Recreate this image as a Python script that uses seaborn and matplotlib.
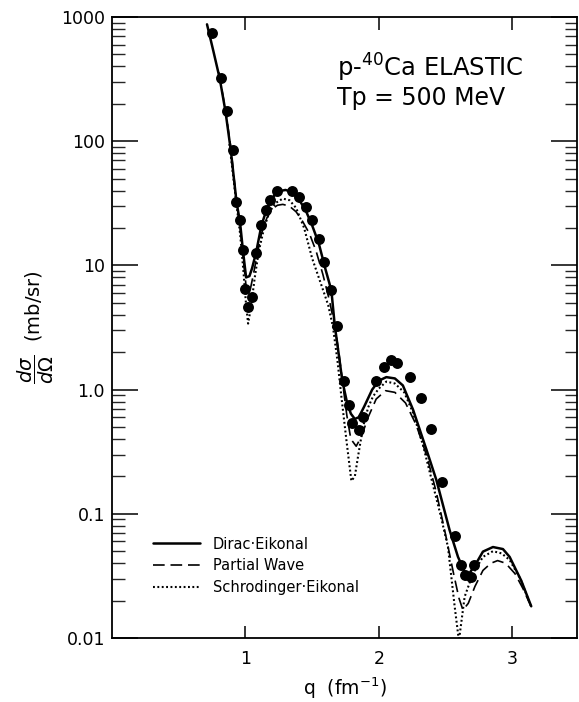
import matplotlib
matplotlib.use("Agg")
import matplotlib.pyplot as plt
import seaborn as sns
import pandas as pd
import numpy as np

# ---- data ----
q_data = [0.750, 0.820, 0.862, 0.907, 0.933, 0.960, 0.982, 0.995, 1.052, 1.019,
          1.082, 1.120, 1.157, 1.182, 1.238, 1.352, 1.401, 1.452, 1.499, 1.551,
          1.589, 1.641, 1.690, 1.738, 1.778, 1.801, 1.849, 1.881, 1.976, 2.036,
          2.088, 2.136, 2.231, 2.315, 2.388, 2.476, 2.568, 2.618, 2.643, 2.693, 2.710]
xs_data = [740, 321, 175, 85, 32.6, 23.2, 13.3, 6.5, 5.6, 4.6,
           12.7, 21.1, 27.9, 33.6, 40, 39.7, 35.7, 29.4, 23.2, 16.3,
           10.6, 6.3, 3.25, 1.18, 0.75, 0.535, 0.47, 0.60, 1.18, 1.51,
           1.73, 1.63, 1.27, 0.86, 0.48, 0.181, 0.066, 0.0387, 0.0321, 0.0308, 0.0387]

q_dirac = [0.712, 0.76, 0.807, 0.85, 0.89, 0.933, 0.96, 0.982, 1.005, 1.03, 1.05, 1.08,
           1.12, 1.16, 1.20, 1.25, 1.30, 1.35, 1.40, 1.45, 1.50, 1.55, 1.60, 1.644,
           1.67, 1.70, 1.726, 1.76, 1.79, 1.82, 1.85, 1.89, 1.95, 2.00, 2.056, 2.12,
           2.18, 2.256, 2.356, 2.431, 2.53, 2.593, 2.66, 2.73, 2.78, 2.855, 2.93,
           2.98, 3.067, 3.142]
xs_dirac = [873, 530, 321, 175, 85, 32.6, 22, 13, 8.0, 8.2, 9.5, 12.7,
            21, 28.5, 35, 39.5, 40.5, 39, 34, 28, 21, 15, 9.3, 6.3,
            3.25, 1.9, 1.18, 0.8, 0.64, 0.58, 0.6, 0.73, 1.0, 1.18, 1.26, 1.23,
            1.08, 0.69, 0.33, 0.187, 0.074, 0.045, 0.031, 0.040, 0.0496, 0.054, 0.052,
            0.045, 0.029, 0.018]

q_pw = [0.80, 0.85, 0.89, 0.933, 0.96, 0.985, 1.01, 1.035, 1.06, 1.09, 1.12, 1.16,
        1.20, 1.24, 1.28, 1.33, 1.38, 1.43, 1.48, 1.53, 1.58, 1.63, 1.67, 1.70,
        1.73, 1.76, 1.79, 1.83, 1.87, 1.92, 1.98, 2.05, 2.12, 2.20, 2.28, 2.36,
        2.43, 2.50, 2.56, 2.60, 2.63, 2.67, 2.72, 2.78, 2.84, 2.89, 2.95, 3.02,
        3.08, 3.13]
xs_pw = [360, 180, 90, 33, 20, 11, 6.0, 6.3, 8.5, 12.5, 18, 24,
         28.5, 30.5, 31, 30, 27, 22.5, 18, 13, 8.5, 5.2, 3.2, 2.0,
         1.1, 0.62, 0.40, 0.35, 0.42, 0.6, 0.84, 0.98, 0.95, 0.78, 0.52, 0.29,
         0.15, 0.068, 0.033, 0.021, 0.0168, 0.019, 0.026, 0.035, 0.040, 0.042, 0.040, 0.033,
         0.025, 0.019]

q_se = [0.88, 0.93, 0.96, 0.985, 1.005, 1.02, 1.04, 1.07, 1.10, 1.14, 1.18, 1.23,
        1.28, 1.33, 1.38, 1.44, 1.50, 1.57, 1.62, 1.656, 1.69, 1.719, 1.757, 1.794,
        1.82, 1.844, 1.881, 1.92, 1.956, 2.00, 2.056, 2.12, 2.19, 2.256, 2.33, 2.40,
        2.46, 2.518, 2.568, 2.60, 2.643, 2.705, 2.78, 2.855, 2.92, 2.98, 3.06, 3.14]
xs_se = [95, 33, 18, 9, 4.8, 3.4, 4.5, 8, 13, 20, 27, 32,
         34.5, 33.5, 29, 20, 11.4, 6.9, 4.8, 3.2, 1.7, 0.88, 0.39, 0.184,
         0.2, 0.29, 0.5, 0.72, 0.88, 1.02, 1.16, 1.12, 0.95, 0.65, 0.36, 0.18,
         0.1, 0.054, 0.018, 0.0095, 0.0215, 0.033, 0.045, 0.050, 0.048, 0.0425, 0.03, 0.018]

y_ticks = [0.01, 0.1, 1, 10, 100, 1000]
y_tick_labels = ["0.01", "0.1", "1.0", "10", "100", "1000"]
x_ticks = [1, 2, 3]
x_tick_labels = ["1", "2", "3"]
legend_labels = ["Dirac\u00b7Eikonal", "Partial Wave", "Schrodinger\u00b7Eikonal"]

# ---- plot ----
sns.set_theme(style="ticks")
plt.rcParams["font.family"] = ["DejaVu Sans"]
plt.rcParams["mathtext.fontset"] = "dejavusans"
plt.rcParams["text.color"] = "black"
plt.rcParams["axes.labelcolor"] = "black"

fig = plt.figure(figsize=(5.79, 7.02), dpi=100)
ax = fig.add_axes([112 / 579, 1 - 638 / 702, (577 - 112) / 579, (638 - 17) / 702])

df_d = pd.DataFrame({"q": q_dirac, "xs": xs_dirac})
df_p = pd.DataFrame({"q": q_pw, "xs": xs_pw})
df_s = pd.DataFrame({"q": q_se, "xs": xs_se})
df_pts = pd.DataFrame({"q": q_data, "xs": xs_data})

sns.lineplot(data=df_d, x="q", y="xs", sort=False, ax=ax, color="black",
             lw=1.8, label=legend_labels[0])
sns.lineplot(data=df_p, x="q", y="xs", sort=False, ax=ax, color="black",
             lw=1.2, dashes=False, label=legend_labels[1])
ax.lines[-1].set_dashes([7, 3.5])
sns.lineplot(data=df_s, x="q", y="xs", sort=False, ax=ax, color="black",
             lw=1.5, label=legend_labels[2])
ax.lines[-1].set_dashes([0.9, 1.2])
sns.scatterplot(data=df_pts, x="q", y="xs", ax=ax, color="black", s=62,
                edgecolor="black", linewidth=0, zorder=5)

ax.set_yscale("log")
ax.set_xlim(0, 3.485)
ax.set_ylim(0.01, 1000)
ax.set_yticks(y_ticks)
ax.set_yticklabels(y_tick_labels)
ax.set_xticks(x_ticks)
ax.set_xticklabels(x_tick_labels)

for s in ax.spines.values():
    s.set_linewidth(1.3)
    s.set_color("black")

ax.tick_params(axis="y", which="major", direction="in", length=19, width=1.1,
               left=True, right=True, labelsize=12.5, pad=5, colors="black")
ax.tick_params(axis="y", which="minor", direction="in", length=9, width=1.0,
               left=True, right=True)
ax.tick_params(axis="x", which="major", direction="in", length=9, width=1.1,
               top=True, bottom=True, labelsize=12.5, pad=9, colors="black")
ax.tick_params(axis="x", which="minor", bottom=False, top=False)

ax.set_xlabel("q  (fm$^{-1}$)", fontsize=13.5, labelpad=5)
ax.set_ylabel(r"$\dfrac{d\sigma}{d\Omega}$  (mb/sr)", fontsize=14, labelpad=4)

ax.text(0.484, 0.918, "p-$^{40}$Ca ELASTIC", transform=ax.transAxes,
        fontsize=17.5, ha="left", va="center")
ax.text(0.484, 0.870, "Tp = 500 MeV", transform=ax.transAxes,
        fontsize=17, ha="left", va="center")

leg = ax.legend(loc="lower left", bbox_to_anchor=(0.073, 0.058), frameon=False,
                fontsize=10.5, handlelength=3.2, handletextpad=0.9,
                labelspacing=0.45, borderpad=0)
for h in leg.get_lines():
    h.set_color("black")

fig.savefig("out.png", dpi=100)
